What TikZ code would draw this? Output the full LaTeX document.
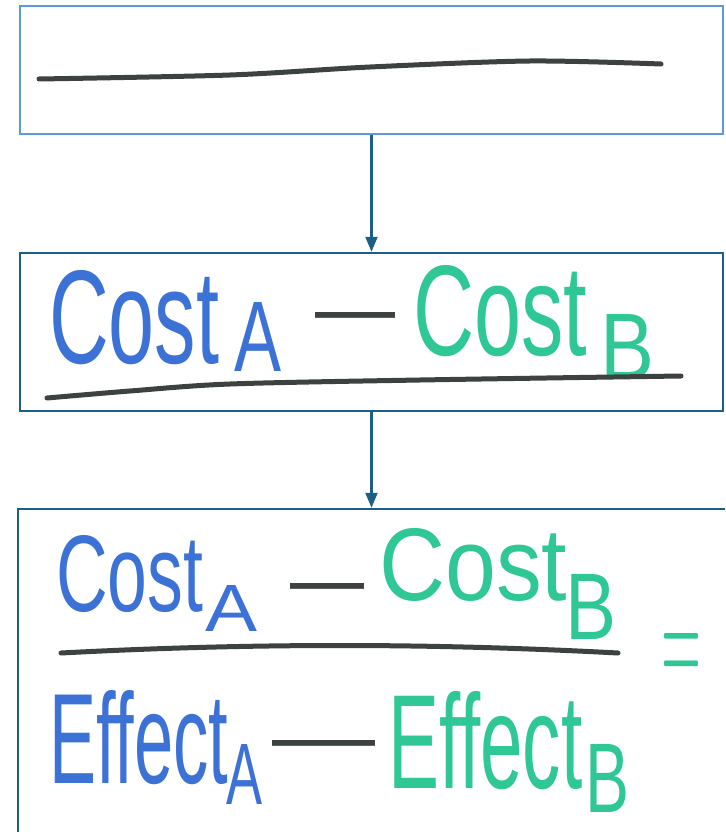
\documentclass[tikz,border=0pt]{standalone}
\usepackage{fontspec}
\setmainfont{Liberation Sans}
\usetikzlibrary{arrows.meta}
\definecolor{boxlight}{HTML}{5B9BD5}
\definecolor{boxdark}{HTML}{1B5E86}
\definecolor{penblue}{HTML}{3C72D6}
\definecolor{pengreen}{HTML}{2FC795}
\definecolor{pengrey}{HTML}{3E423F}
\newcommand{\hwtext}[3]{\resizebox{#1pt}{#2pt}{#3}}
\begin{document}
\begin{tikzpicture}[x=1pt,y=-1pt,
  panel/.style={draw, line width=2.5pt, rectangle, inner sep=0pt},
  flow/.style={draw=boxdark, line width=2.2pt, -{Triangle[length=15pt,width=12pt]}},
  bluepen/.style={text=penblue, inner sep=0pt, anchor=south west},
  greenpen/.style={text=pengreen, inner sep=0pt, anchor=south west},
  greypen/.style={text=pengrey, inner sep=0pt, anchor=north west},
  stroke/.style={draw=pengrey, line width=5pt, line cap=round}]
\useasboundingbox (0,0) rectangle (725,832);
\clip (0,0) rectangle (725,832);
\fill[white] (0,0) rectangle (725,832);
% panels
\node[panel, draw=boxlight, minimum width=703pt, minimum height=128pt] (p1) at (371.5,70) {};
\node[panel, draw=boxdark, minimum width=703pt, minimum height=158pt] (p2) at (371.5,332) {};
\node[panel, draw=boxdark, minimum width=722pt, minimum height=341pt] (p3) at (379,679.5) {};
\draw[flow] (p1.south) -- (p2.north);
\draw[flow] (p2.south) -- (p2.south |- p3.north);
% panel 1
\draw[stroke] plot[smooth] coordinates {(39,79) (230,75) (370,67) (530,61) (661,64)};
% panel 2
\node[bluepen] (c2a) at (49,365) {\hwtext{170}{93}{Cost}};
\node[bluepen] (s2a) at (234,372) {\hwtext{47}{69}{A}};
\node[greypen] (m2) at (315,312) {\hwtext{80}{25}{—}};
\node[greenpen] (c2b) at (413,357) {\hwtext{174}{90}{Cost}};
\node[greenpen] (s2b) at (600,380) {\hwtext{54}{65}{B}};
\draw[stroke] plot[smooth] coordinates {(47,398) (130,391) (230,384) (420,380) (681,376)};
% panel 3 numerator
\node[bluepen] (c3a) at (56,613) {\hwtext{147}{76}{Cost}};
\node[bluepen] (s3a) at (205,632) {\hwtext{52}{46}{A}};
\node[greypen] (m3) at (290,583) {\hwtext{74}{25}{—}};
\node[greenpen] (c3b) at (379,602) {\hwtext{188}{72}{Cost}};
\node[greenpen] (s3b) at (565,640) {\hwtext{51}{65}{B}};
\draw[stroke] (61,653) .. controls (250,643) and (430,643) .. (618,653);
\node[greenpen, anchor=base west] (eq) at (661,685) {\hwtext{40}{52}{$=$}};
% panel 3 denominator
\node[bluepen] (e3a) at (49,785) {\hwtext{179}{93}{Effect}};
\node[bluepen] (t3a) at (226,805) {\hwtext{36}{60}{A}};
\node[greypen] (m4) at (272,740) {\hwtext{103}{25}{—}};
\node[greenpen] (e3b) at (388,790) {\hwtext{194}{97}{Effect}};
\node[greenpen] (t3b) at (585,813) {\hwtext{44}{68}{B}};
\end{tikzpicture}
\end{document}
